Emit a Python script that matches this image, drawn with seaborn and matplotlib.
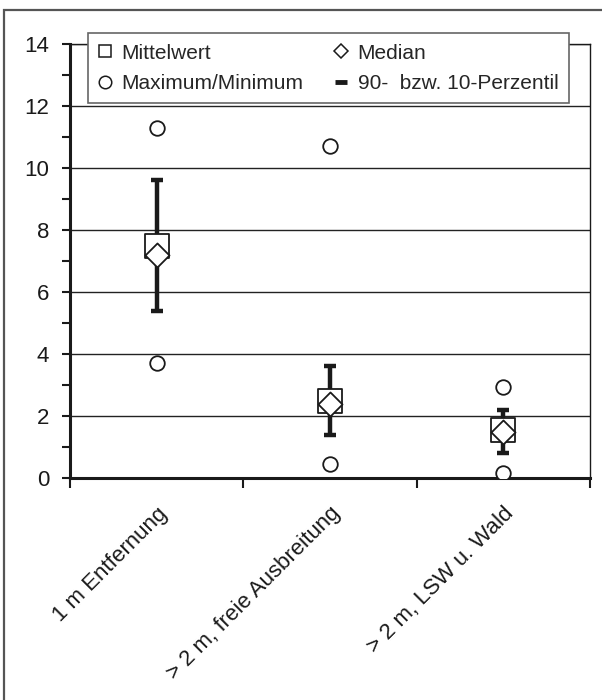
import matplotlib
matplotlib.use("Agg")
import matplotlib.pyplot as plt
from matplotlib.lines import Line2D
from matplotlib.patches import Rectangle
import numpy as np
import pandas as pd
import seaborn as sns

# Statistics per measurement location
categories = ["1 m Entfernung", "> 2 m, freie Ausbreitung", "> 2 m, LSW u. Wald"]
mean_vals = [7.5, 2.5, 1.55]
median_vals = [7.2, 2.4, 1.5]
max_vals = [11.3, 10.7, 2.95]
min_vals = [3.7, 0.45, 0.15]
p90_vals = [9.6, 3.6, 2.2]
p10_vals = [5.4, 1.4, 0.8]

y_ticks = [0, 2, 4, 6, 8, 10, 12, 14]

sns.set_theme(style="white")
plt.rcParams["font.family"] = ["Liberation Sans", "DejaVu Sans"]

df = pd.DataFrame({
    "cat": categories,
    "mean": mean_vals,
    "median": median_vals,
    "max": max_vals,
    "min": min_vals,
    "p90": p90_vals,
    "p10": p10_vals,
})

fig = plt.figure(figsize=(6.02, 7.0), dpi=100)
ax = fig.add_axes([70 / 602, 1 - 478 / 700, 520 / 602, 434 / 700])

# outer frame around the figure
fig.patches.append(Rectangle((4 / 602, -0.05), 1.2, 1 - 10 / 700 + 0.05,
                             transform=fig.transFigure, fill=False,
                             edgecolor="#555555", linewidth=1.6, zorder=0))

# horizontal grid lines
for v in y_ticks[1:]:
    ax.axhline(v, color="#222222", linewidth=1.0, zorder=1)

x = np.arange(len(categories))

# percentile range with caps
ax.errorbar(x, df["p10"], yerr=[np.zeros(len(x)), df["p90"] - df["p10"]],
            fmt="none", ecolor="#1a1a1a", elinewidth=3.2, capsize=4,
            capthick=3.2, zorder=3)

sns.scatterplot(data=df, x="cat", y="max", marker="o", s=110,
                facecolor="white", edgecolor="#1a1a1a", linewidth=1.3,
                ax=ax, zorder=4)
sns.scatterplot(data=df, x="cat", y="min", marker="o", s=110,
                facecolor="white", edgecolor="#1a1a1a", linewidth=1.3,
                ax=ax, zorder=4)
sns.scatterplot(data=df, x="cat", y="mean", marker="s", s=280,
                facecolor="white", edgecolor="#1a1a1a", linewidth=1.3,
                ax=ax, zorder=5)
sns.scatterplot(data=df, x="cat", y="median", marker="D", s=150,
                facecolor="white", edgecolor="#1a1a1a", linewidth=1.3,
                ax=ax, zorder=6)

ax.set_xlim(-0.5, len(categories) - 0.5)
ax.set_ylim(0, 14)
ax.set_xlabel("")
ax.set_ylabel("")

ax.set_yticks(y_ticks)
ax.set_yticklabels([str(v) for v in y_ticks], fontsize=16, color="#1a1a1a")
ax.set_yticks(np.arange(1, 14, 2), minor=True)
ax.tick_params(axis="y", which="both", direction="out", length=6, width=1.5,
               left=True, color="#1a1a1a", pad=9)

ax.set_xticks(x)
ax.set_xticklabels(categories, rotation=45, ha="right",
                   rotation_mode="anchor", fontsize=16, color="#1a1a1a")
ax.set_xticks(np.arange(-0.5, len(categories), 1.0), minor=True)
ax.tick_params(axis="x", which="major", length=0, pad=18)
ax.tick_params(axis="x", which="minor", direction="out", length=7, width=1.5,
               bottom=True, color="#1a1a1a")

for side in ["left", "bottom"]:
    ax.spines[side].set_linewidth(2.2)
    ax.spines[side].set_color("#1a1a1a")
for side in ["right", "top"]:
    ax.spines[side].set_linewidth(1.0)
    ax.spines[side].set_color("#1a1a1a")
    ax.spines[side].set_visible(True)

handles = [
    Line2D([], [], linestyle="none", marker="s", markersize=9,
           markerfacecolor="white", markeredgecolor="#1a1a1a", markeredgewidth=1.1),
    Line2D([], [], linestyle="none", marker="o", markersize=9,
           markerfacecolor="white", markeredgecolor="#1a1a1a", markeredgewidth=1.1),
    Line2D([], [], linestyle="none", marker="D", markersize=7,
           markerfacecolor="white", markeredgecolor="#1a1a1a", markeredgewidth=1.1),
    Line2D([], [], linestyle="none", marker="_", markersize=8,
           markeredgecolor="#1a1a1a", markeredgewidth=3.5),
]
labels = ["Mittelwert", "Maximum/Minimum", "Median", "90-  bzw. 10-Perzentil"]
leg = ax.legend(handles, labels, ncol=2, loc="upper center",
                bbox_to_anchor=(0.497, 1.025), fontsize=15, frameon=True,
                fancybox=False, framealpha=1, edgecolor="#666666",
                handlelength=0.6, handletextpad=0.5, columnspacing=1.5,
                labelspacing=0.55, borderpad=0.5, borderaxespad=0)
leg.get_frame().set_linewidth(1.2)
leg.set_zorder(10)

fig.savefig("out.png", dpi=100)
